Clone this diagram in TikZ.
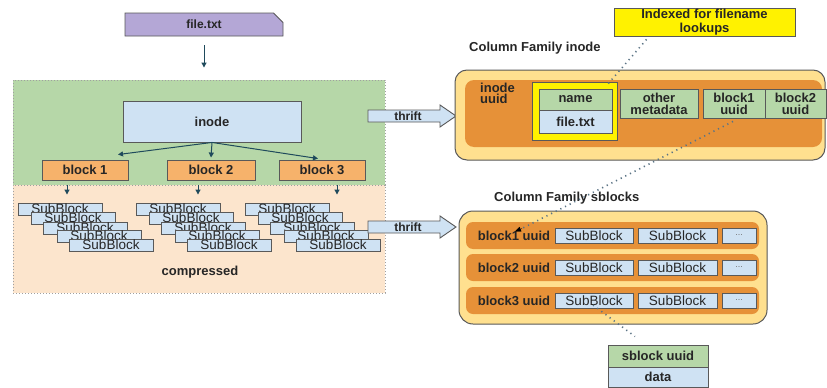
\documentclass[tikz,border=0pt]{standalone}
\usepackage{fontspec}
\setmainfont{Liberation Sans}
\usetikzlibrary{shapes.misc,arrows.meta,calc}
\definecolor{purp}{HTML}{B4A7D6}
\definecolor{grn}{HTML}{B6D7A8}
\definecolor{lblue}{HTML}{CFE2F3}
\definecolor{borange}{HTML}{F6B26B}
\definecolor{peach}{HTML}{FCE5CD}
\definecolor{cfouter}{HTML}{FFE08F}
\definecolor{deeporange}{HTML}{E69138}
\definecolor{edge}{HTML}{595959}
\definecolor{arrowc}{HTML}{1F4A5C}
\definecolor{dotc}{HTML}{5A7385}
\definecolor{regionedge}{HTML}{A0A0A0}
\tikzset{
  x=1pt, y=-1pt,
  lbl/.style={font=\fontsize{13}{14}\selectfont\bfseries, text=black!85},
  bx/.style={draw=edge, line width=0.9pt, inner sep=0pt, lbl},
  region/.style={draw=regionedge, dash pattern=on 1pt off 2pt, line width=0.9pt, inner sep=0pt},
  subbox/.style={draw=edge, line width=0.9pt, fill=lblue, inner sep=0pt, minimum width=84pt, minimum height=12pt, font=\fontsize{13.5}{14}\selectfont, text=black!85},
  rowsub/.style={draw=edge, line width=0.9pt, fill=lblue, inner sep=0pt, minimum height=15pt, font=\fontsize{13.5}{14}\selectfont, text=black!85},
  conn/.style={draw=arrowc, line width=1pt, -{Triangle[length=5pt,width=5pt]}},
  dotline/.style={draw=dotc, line width=1.6pt, dash pattern=on 1.2pt off 4pt},
  thriftshape/.style={draw=edge, line width=0.9pt, fill=lblue},
  cf/.style={draw=edge, line width=1pt, rounded corners=12pt},
  rowbox/.style={draw=none, fill=deeporange, rounded corners=7pt, minimum width=293pt, minimum height=27pt, inner sep=0pt},
}
\begin{document}
\begin{tikzpicture}
\useasboundingbox[fill=white] (0,0) rectangle (827,388);

% ---------- left side ----------
\node[region, fill=grn, minimum width=372pt, minimum height=105pt] (green) at (199,132.5) {};
\node[region, fill=peach, minimum width=372pt, minimum height=108pt] (peachr) at (199,239) {};

\node[bx, fill=purp, chamfered rectangle, chamfered rectangle corners=north east,
      chamfered rectangle xsep=5pt, chamfered rectangle ysep=5pt,
      minimum width=158pt, minimum height=23pt, font=\fontsize{12}{14}\selectfont\bfseries] (file) at (204,24.5) {file.txt};
\draw[conn] ($(file.south)+(0,9)$) -- ($(green.north)+(5,-12)$);

\node[bx, fill=lblue, minimum width=178pt, minimum height=41pt] (inode) at (212,121.5) {inode};
\node[bx, fill=borange, minimum width=86pt, minimum height=20pt] (b1) at (85,170) {block 1};
\node[bx, fill=borange, minimum width=88pt, minimum height=20pt] (b2) at (211,170) {block 2};
\node[bx, fill=borange, minimum width=86pt, minimum height=20pt] (b3) at (322,170) {block 3};

\draw[conn] (inode.south) -- ($(b1.north)+(33,-5)$);
\draw[conn] (inode.south) -- ($(b2.north)+(0,-2)$);
\draw[conn] (inode.south) -- ($(b3.north)+(-4,-1)$);

% SubBlock stacks
\foreach \sx/\st in {0/1, 118/2, 227/3}{
  \node[subbox] (s\st a) at (60+\sx,209) {SubBlock};
  \node[subbox] (s\st b) at (73+\sx,218) {SubBlock};
  \node[subbox] (s\st c) at (85+\sx,228) {SubBlock};
  \node[subbox] (s\st d) at (99+\sx,236) {SubBlock};
  \node[subbox] (s\st e) at (111+\sx,245) {SubBlock};
}
\draw[conn] ($(b1.south)+(-18,5)$) -- ($(s1a.north)+(7,-8)$);
\draw[conn] ($(b2.south)+(-13,5)$) -- ($(s2a.north)+(20,-8)$);
\draw[conn] ($(b3.south)+(15,5)$) -- ($(s3a.north)+(50,-8)$);

\node[lbl] (comp) at (200,272) {compressed};

% thrift arrows
\begin{scope}[shift={(368,116)}]
  \draw[thriftshape] (0,-6) -- (72,-6) -- (72,-11) -- (88,0) -- (72,11) -- (72,6) -- (0,6) -- cycle;
  \node[lbl, inner sep=0pt, font=\fontsize{12}{13}\selectfont\bfseries] (t1) at (40,0) {thrift};
\end{scope}
\begin{scope}[shift={(368,227)}]
  \draw[thriftshape] (0,-6) -- (72,-6) -- (72,-11) -- (88,0) -- (72,11) -- (72,6) -- (0,6) -- cycle;
  \node[lbl, inner sep=0pt, font=\fontsize{12}{13}\selectfont\bfseries] (t2) at (40,0) {thrift};
\end{scope}

% ---------- right side: Column Family inode ----------
\node[bx, fill=yellow, minimum width=181pt, minimum height=28pt, align=center,
      font=\fontsize{13}{14}\selectfont\bfseries] (index) at (704.5,22) {Indexed for filename\\lookups};
\node[lbl, anchor=west, inner sep=0pt] (cfil) at (469,48) {Column Family inode};

\node[cf, fill=cfouter, minimum width=370pt, minimum height=90pt] (cfi) at (640,115) {};
\node[draw=none, fill=deeporange, rounded corners=9pt, minimum width=357pt, minimum height=67pt] (cfin) at (643.5,113.5) {};
\node[lbl, anchor=west, align=left, inner sep=0pt, font=\fontsize{13}{11}\selectfont\bfseries] (iu) at (480,93) {inode\\uuid};

\node[bx, fill=yellow, minimum width=85pt, minimum height=58pt] (hl) at (574.5,111) {};
\node[bx, fill=grn, minimum width=73pt, minimum height=21pt] (nm) at (575.5,99.5) {name};
\node[bx, fill=lblue, minimum width=73pt, minimum height=23pt] (ft) at (575.5,121.5) {file.txt};
\node[bx, fill=grn, minimum width=78pt, minimum height=29pt, align=center, font=\fontsize{13}{12}\selectfont\bfseries] (om) at (659,103.5) {other\\metadata};
\node[bx, fill=grn, minimum width=62pt, minimum height=29pt, align=center, font=\fontsize{13}{12}\selectfont\bfseries] (b1u) at (734,103.5) {block1\\uuid};
\node[bx, fill=grn, minimum width=61pt, minimum height=29pt, align=center, font=\fontsize{13}{12}\selectfont\bfseries] (b2u) at (795.5,103.5) {block2\\uuid};

% ---------- right side: Column Family sblocks ----------
\node[lbl, anchor=west, inner sep=0pt] (cfsl) at (494,198) {Column Family sblocks};
\node[cf, fill=cfouter, rounded corners=14pt, minimum width=308pt, minimum height=113pt] (cfs) at (613,267.5) {};

\foreach \r/\ry in {1/235.5, 2/267.5, 3/300.5}{
  \node[rowbox] (row\r) at (612.5,\ry) {};
  \node[lbl, inner sep=0pt] (rl\r) at (514,\ry) {block\r{} uuid};
  \node[rowsub, minimum width=78pt] (r\r s1) at (594,\ry) {SubBlock};
  \node[rowsub, minimum width=79pt] (r\r s2) at (677.5,\ry) {SubBlock};
  \node[rowsub, minimum width=34pt, text=black!55, font=\fontsize{9}{10}\selectfont] (r\r d) at (739,\ry) {...};
}

\node[bx, fill=grn, minimum width=100pt, minimum height=22pt] (sbu) at (658,356) {sblock uuid};
\node[bx, fill=lblue, minimum width=100pt, minimum height=20pt] (sbd) at (658,377) {data};

% dotted connectors
\draw[dotline] ($(index.south west)+(33,3)$) -- ($(hl.north east)+(-10,3)$);
\draw[dotline] ($(b1u.south)+(-1,3)$) -- ($(rl1)+(4,-5)$);
\draw[draw=black, -{Triangle[length=6pt,width=5pt]}] ($(rl1)+(8,-7)$) -- ($(rl1)+(1,-4)$);
\draw[dotline] ($(r3s1.center)+(-1,4.5)$) -- ($(sbu.north)+(-23,-8)$);
\end{tikzpicture}
\end{document}
